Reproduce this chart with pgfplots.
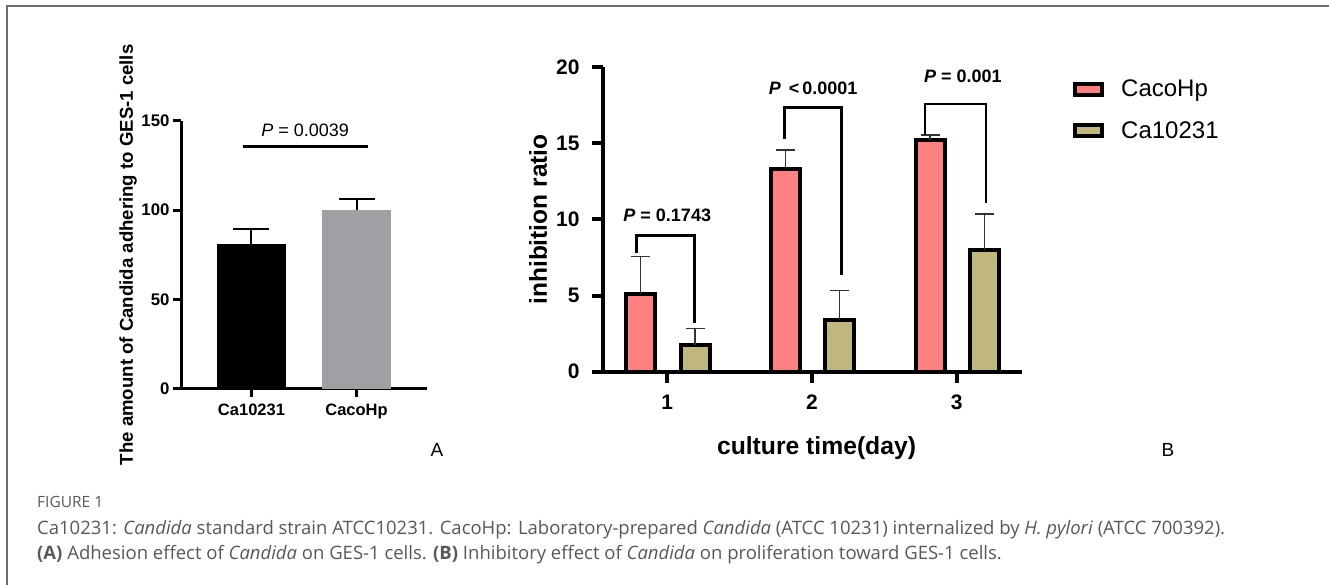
\documentclass[border=0pt]{standalone}
\usepackage{pgfplots}
\usepackage{pgfplotstable}
\pgfplotsset{compat=1.18}
\usepackage{fontspec}
\setmainfont{Liberation Sans}
\newfontfamily\capfont{Open Sans}
\definecolor{pinkbar}{RGB}{255,128,128}
\definecolor{khaki}{RGB}{193,183,124}
\definecolor{graybar}{RGB}{160,160,164}
\definecolor{capgray}{RGB}{88,88,88}
\definecolor{framegray}{RGB}{110,110,110}

% Panel A
\pgfplotstableread{
x y e
0 80.8 8.4
}\tabAone
\pgfplotstableread{
x y e
1 100.0 6.2
}\tabAtwo
% Panel B (x = day position of each bar's centre)
\pgfplotstableread{
x y e
0.817 5.08 2.47
1.817 13.34 1.23
2.817 15.24 0.31
}\tabCaco
\pgfplotstableread{
x y e
1.192 1.73 1.10
2.192 3.42 1.90
3.192 8.00 2.36
}\tabCa

\begin{document}
\begin{tikzpicture}[x=1pt,y=1pt]
\useasboundingbox (0,0) rectangle (1329,585);
\draw[framegray, line width=1.3pt] (7,0) -- (7,579) -- (1329,579);

% ---------------- Panel A ----------------
\begin{axis}[
  at={(181pt,196pt)}, anchor=south west,
  scale only axis, width=246pt, height=268.3pt,
  xmin=-0.671, xmax=1.671, ymin=0, ymax=150,
  axis lines=left, axis line style={-, line width=3pt, black},
  tick align=outside, major tick length=8pt,
  every tick/.style={black, line width=3pt},
  xtick={0,1}, xticklabels={Ca10231, CacoHp},
  ytick={0,50,100,150}, minor tick num=0,
  /pgf/number format/assume math mode=true,
  xticklabel style={font=\fontsize{16.5}{16.5}\selectfont\bfseries, yshift=-3pt},
  yticklabel style={font=\fontsize{16.8}{16.8}\selectfont\bfseries},
  clip=false,
  ylabel={The amount of Candida adhering to GES-1 cells},
  every axis y label/.style={at={(axis description cs:-0.2154,0.5)}, rotate=90, anchor=center,
     font=\fontsize{18.6}{18.6}\selectfont\bfseries},
]
\addplot[ybar, bar width=69pt, bar shift=0pt, fill=black, draw=none,
  error bars/.cd, y dir=plus, y explicit,
  error bar style={line width=2pt, black},
  error mark options={rotate=90, line width=2pt, black, mark size=18pt}]
  table[x=x, y=y, y error=e] {\tabAone};
\addplot[ybar, bar width=69pt, bar shift=0pt, fill=graybar, draw=none,
  error bars/.cd, y dir=plus, y explicit,
  error bar style={line width=2pt, black},
  error mark options={rotate=90, line width=2pt, black, mark size=18pt}]
  table[x=x, y=y, y error=e] {\tabAtwo};
\addplot[sharp plot, no marks, black, line width=3pt, forget plot]
  coordinates {(-0.081,135.4) (1.11,135.4)};
\node[font=\fontsize{18}{18}\selectfont] at (axis cs:0.51,144.7) {\textit{P} = 0.0039};
\end{axis}

% ---------------- Panel B ----------------
\begin{axis}[
  at={(603pt,213.3pt)}, anchor=south west,
  scale only axis, width=418.7pt, height=304.4pt,
  xmin=0.556, xmax=3.45, ymin=0, ymax=20,
  axis lines=left, axis line style={-, line width=4pt, black},
  tick align=outside, major tick length=11pt,
  every tick/.style={black, line width=4pt},
  xtick={1,2,3}, ytick={0,5,10,15,20}, minor tick num=0,
  /pgf/number format/assume math mode=true,
  tick label style={font=\fontsize{21}{21}\selectfont\bfseries},
  xticklabel style={yshift=-9pt},
  yticklabel style={xshift=-9pt},
  clip=false,
  ylabel={inhibition ratio},
  every axis y label/.style={at={(axis description cs:-0.155,0.5)}, rotate=90, anchor=center,
     font=\fontsize{24.5}{24.5}\selectfont\bfseries},
  xlabel={culture time(day)},
  every axis x label/.style={at={(axis description cs:0.51,-0.2507)}, anchor=center,
     font=\fontsize{24.7}{24.7}\selectfont\bfseries},
  legend style={at={(axis description cs:1.1225,0.965)}, anchor=north west,
     draw=none, fill=none, inner sep=0pt, row sep=19pt, column sep=15pt,
     font=\fontsize{24}{24}\selectfont},
  legend cell align=left,
]
\addlegendimage{legend image code/.code={\draw[fill=pinkbar, draw=black, line width=4pt] (0pt,-5.5pt) rectangle (27pt,5.5pt);}}
\addlegendentry{CacoHp}
\addlegendimage{legend image code/.code={\draw[fill=khaki, draw=black, line width=4pt] (0pt,-5.5pt) rectangle (27pt,5.5pt);}}
\addlegendentry{Ca10231}
\addplot[ybar, bar width=29pt, bar shift=0pt, fill=pinkbar, draw=black, line width=4pt, forget plot,
  error bars/.cd, y dir=plus, y explicit,
  error bar style={line width=1.4pt, black!80},
  error mark options={rotate=90, line width=1.4pt, black!80, mark size=9.5pt}]
  table[x=x, y=y, y error=e] {\tabCaco};
\addplot[ybar, bar width=29pt, bar shift=0pt, fill=khaki, draw=black, line width=4pt, forget plot,
  error bars/.cd, y dir=plus, y explicit,
  error bar style={line width=1.4pt, black!80},
  error mark options={rotate=90, line width=1.4pt, black!80, mark size=9.5pt}]
  table[x=x, y=y, y error=e] {\tabCa};
% significance brackets
\addplot[sharp plot, no marks, black, line width=3pt, forget plot]
  coordinates {(0.789,7.78) (0.789,8.92) (1.187,8.92) (1.187,3.18)};
\addplot[sharp plot, no marks, black, line width=3pt, forget plot]
  coordinates {(1.811,15.27) (1.811,17.35) (2.2025,17.35) (2.2025,6.35)};
\addplot[sharp plot, no marks, black, line width=2.5pt, forget plot]
  coordinates {(2.781,15.55) (2.781,17.59) (3.2025,17.59) (3.2025,11.06)};
\node[font=\fontsize{18}{18}\selectfont\bfseries] at (axis cs:1.0,10.3) {\textit{P} = 0.1743};
\node[font=\fontsize{18}{18}\selectfont\bfseries] at (axis cs:2.009,18.6) {\textit{P} \,\textless\,0.0001};
\node[font=\fontsize{18}{18}\selectfont\bfseries] at (axis cs:3.043,19.4) {\textit{P} = 0.001};
\end{axis}

\node[font=\fontsize{19}{19}\selectfont] at (437,135) {A};
\node[font=\fontsize{19}{19}\selectfont] at (1168,135) {B};

% caption
\node[anchor=base west, inner sep=0pt, text=capgray, font=\capfont\fontsize{15.5}{15.5}\selectfont] at (37,77) {FIGURE 1};
\node[anchor=base west, inner sep=0pt, text=capgray, font=\capfont\fontsize{18.5}{18.5}\selectfont] at (37,50)
  {Ca10231: \textit{Candida} standard strain ATCC10231. CacoHp: Laboratory-prepared \textit{Candida} (ATCC 10231) internalized by \textit{H. pylori} (ATCC 700392).};
\node[anchor=base west, inner sep=0pt, text=capgray, font=\capfont\fontsize{18.5}{18.5}\selectfont] at (37,25)
  {\textbf{(A)} Adhesion effect of \textit{Candida} on GES-1 cells. \textbf{(B)} Inhibitory effect of \textit{Candida} on proliferation toward GES-1 cells.};
\end{tikzpicture}
\end{document}
